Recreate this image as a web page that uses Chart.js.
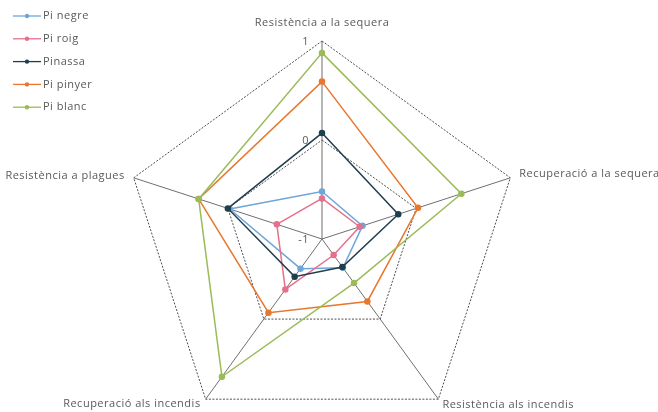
<!DOCTYPE html>
<html>
<head>
<meta charset="utf-8">
<script src="https://cdn.jsdelivr.net/npm/chart.js@4"></script>
<style>
  html, body { margin: 0; padding: 0; background: #fff; }
</style>
</head>
<body>
<canvas id="radar" width="658" height="412"></canvas>
<script>
const axes = ['Resistència a la sequera', 'Recuperació a la sequera', 'Resistència als incendis', 'Recuperació als incendis', 'Resistència a plagues'];
const species = ['Pi negre', 'Pi roig', 'Pinassa', 'Pi pinyer', 'Pi blanc'];
const piNegre = [-0.52, -0.57, -0.64, -0.63, -0.02];
const piRoig = [-0.59, -0.6, -0.8, -0.37, -0.52];
const pinassa = [0.07, -0.19, -0.65, -0.53, 0.0];
const piPinyer = [0.59, 0.02, -0.22, -0.08, 0.31];
const piBlanc = [0.88, 0.48, -0.45, 0.72, 0.31];
const tickValues = [-1, 0, 1];

const colors = ['#6fa6d9', '#e5708c', '#203f4e', '#e8772e', '#9bbb59'];
const seriesValues = [piNegre, piRoig, pinassa, piPinyer, piBlanc];

// [dx, dy, align] from each outer vertex
const axisLabelOffsets = [
    [0, -18, 'center'],
    [9, -3.5, 'left'],
    [4, 6, 'left'],
    [-5, 5, 'right'],
    [-9, -2, 'right']
];

const font = '11px "Open Sans"';
const textColor = '#595959';

const labelPlugin = {
    id: 'radarText',
    afterDraw(chart) {
        const ctx = chart.ctx;
        const scale = chart.scales.r;
        ctx.save();
        ctx.font = font;
        ctx.letterSpacing = '0.5px';
        ctx.fillStyle = textColor;
        ctx.textBaseline = 'middle';

        axes.forEach((name, i) => {
            const p = scale.getPointPosition(i, scale.drawingArea);
            const [dx, dy, align] = axisLabelOffsets[i];
            ctx.textAlign = align;
            ctx.fillText(name, p.x + dx, p.y + dy);
        });

        ctx.textAlign = 'right';
        tickValues.forEach(v => {
            const p = scale.getPointPositionForValue(0, v);
            ctx.fillText(String(v), p.x - 13, p.y + 1);
        });

        // legend, top left
        ctx.textAlign = 'left';
        chart.data.datasets.forEach((ds, i) => {
            const y = 16 + i * 22.8;
            ctx.strokeStyle = ds.borderColor;
            ctx.lineWidth = 1.3;
            ctx.beginPath();
            ctx.moveTo(13, y);
            ctx.lineTo(41, y);
            ctx.stroke();
            ctx.fillStyle = ds.borderColor;
            ctx.beginPath();
            ctx.arc(27, y, 2.2, 0, Math.PI * 2);
            ctx.fill();
            ctx.fillStyle = textColor;
            ctx.fillText(ds.label, 43, y);
        });
        ctx.restore();
    }
};

const config = {
    type: 'radar',
    data: {
        labels: axes,
        datasets: species.map((name, i) => ({
            label: name,
            data: seriesValues[i],
            borderColor: colors[i],
            backgroundColor: colors[i],
            pointBackgroundColor: colors[i],
            pointBorderColor: colors[i],
            borderWidth: 1.5,
            pointRadius: 2.5,
            fill: false,
            order: -i
        }))
    },
    options: {
        responsive: false,
        animation: false,
        layout: { padding: 0 },
        plugins: {
            legend: { display: false },
            tooltip: { enabled: false }
        },
        scales: {
            r: {
                min: -1,
                max: 1,
                ticks: { display: false, stepSize: 1 },
                pointLabels: { display: false },
                grid: { color: '#4d4d4d', lineWidth: 1 },
                border: { dash: [2, 1.5] },
                angleLines: { color: '#6f6f6f', lineWidth: 1 },
                afterFit: scale => {
                    scale.xCenter = 322;
                    scale.yCenter = 239;
                    scale.drawingArea = 198;
                }
            }
        }
    },
    plugins: [labelPlugin]
};

const myChart = new Chart(document.getElementById('radar'), config);
</script>
</body>
</html>
